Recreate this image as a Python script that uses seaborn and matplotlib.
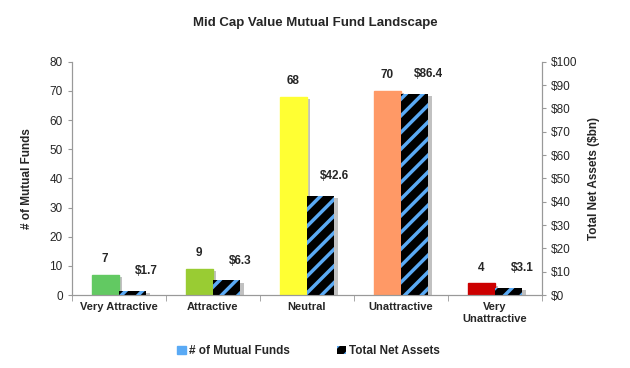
import pandas as pd
import numpy as np
import matplotlib
matplotlib.use('Agg')
import matplotlib.pyplot as plt
import matplotlib.patheffects as pe
from matplotlib.patches import Patch
import seaborn as sns

# datos
categorias = ['Very Attractive', 'Attractive', 'Neutral', 'Unattractive', 'Very\nUnattractive']
num_fondos = [7, 9, 68, 70, 4]
activos = [1.7, 6.3, 42.6, 86.4, 3.1]
colores = ['#62c962', '#99cc33', '#ffff33', '#ff9966', '#cc0000']
azul = '#5aaaf5'

sns.set_style('white')
plt.rcParams['font.family'] = ['Liberation Sans', 'DejaVu Sans']
plt.rcParams['hatch.linewidth'] = 2.5

series = ['# of Mutual Funds', 'Total Net Assets']
df = pd.DataFrame({
    'categoria': categorias * 2,
    'serie': [series[0]] * 5 + [series[1]] * 5,
    'valor': num_fondos + activos,
})


class Sombra(pe.SimplePatchShadow):
    # sombra lisa, sin el rayado de la barra
    def draw_path(self, renderer, gc, tpath, affine, rgbFace):
        gc0 = renderer.new_gc()
        gc0.copy_properties(gc)
        gc0.set_hatch(None)
        super().draw_path(renderer, gc0, tpath, affine, rgbFace)
        gc0.restore()


fig = plt.figure(figsize=(6.3, 3.68), dpi=100)
ax = fig.add_axes([0.114, 0.198, 0.746, 0.634])
ax2 = ax.twinx()

sombra = [Sombra(offset=(2.5, -1.5), shadow_rgbFace='#999999', alpha=0.6), pe.Normal()]

# las dos series en cada eje para que seaborn las coloque lado a lado;
# en cada eje se oculta la serie que no le corresponde
for a in (ax, ax2):
    sns.barplot(data=df, x='categoria', y='valor', hue='serie', hue_order=series,
                order=categorias, ax=a, width=0.58, gap=0,
                palette=['#888888', 'black'], legend=False, err_kws={'linewidth': 0})

for p in ax.containers[1]:
    p.set_visible(False)
for p in ax2.containers[0]:
    p.set_visible(False)

for p, c in zip(ax.containers[0], colores):
    p.set_facecolor(c)
    p.set_edgecolor(c)
    p.set_path_effects(sombra)
for p in ax2.containers[1]:
    p.set_facecolor('black')
    p.set_edgecolor(azul)
    p.set_linewidth(0)
    p.set_hatch('//')
    p.set_path_effects(sombra)

ax.bar_label(ax.containers[0], labels=[str(v) for v in num_fondos], padding=7,
             fontsize=8.5, fontweight='bold')
etiquetas = ax2.bar_label(ax2.containers[1], labels=['$%.1f' % v for v in activos],
                          padding=10, fontsize=8.5, fontweight='bold')
for t in etiquetas:
    t.xyann = (10, 10)

ax.set_ylim(0, 80)
ax.set_yticks(np.arange(0, 81, 10))
ax2.set_ylim(0, 100)
ax2.set_yticks(np.arange(0, 101, 10))
ax2.set_yticklabels(['$%d' % v for v in range(0, 101, 10)])
ax.set_xlim(-0.5, 4.5)

ax.set_xlabel('')
ax.set_ylabel('# of Mutual Funds', fontsize=8.5, fontweight='bold', labelpad=12)
ax2.set_ylabel('Total Net Assets ($bn)', fontsize=8.5, fontweight='bold', labelpad=8)

for a in (ax, ax2):
    for s in a.spines.values():
        s.set_color('#999999')
        s.set_linewidth(0.8)
    a.spines['top'].set_visible(False)
    a.tick_params(axis='y', labelsize=8.5, length=3, color='#999999', direction='out')

ax.tick_params(axis='y', left=True)
ax2.tick_params(axis='y', right=True)
ax.tick_params(axis='x', length=0, labelsize=8, pad=5)
ax.set_xticks(np.arange(-0.5, 5, 1), minor=True)
ax.tick_params(axis='x', which='minor', length=4, color='#999999', bottom=True)
for t in ax.get_xticklabels():
    t.set_fontweight('bold')

fig.suptitle('Mid Cap Value Mutual Fund Landscape', y=0.955, fontsize=9.5, fontweight='bold')

handles = [Patch(facecolor=azul, edgecolor=azul, label=series[0]),
           Patch(facecolor='black', edgecolor=azul, hatch='//', linewidth=0, label=series[1])]
fig.legend(handles=handles, loc='lower center', bbox_to_anchor=(0.49, 0.0), ncol=2,
           frameon=False, handlelength=0.7, handleheight=0.7,
           columnspacing=4, handletextpad=0.3, prop={'weight': 'bold', 'size': 8.5})

plt.savefig('out.png', dpi=100)
